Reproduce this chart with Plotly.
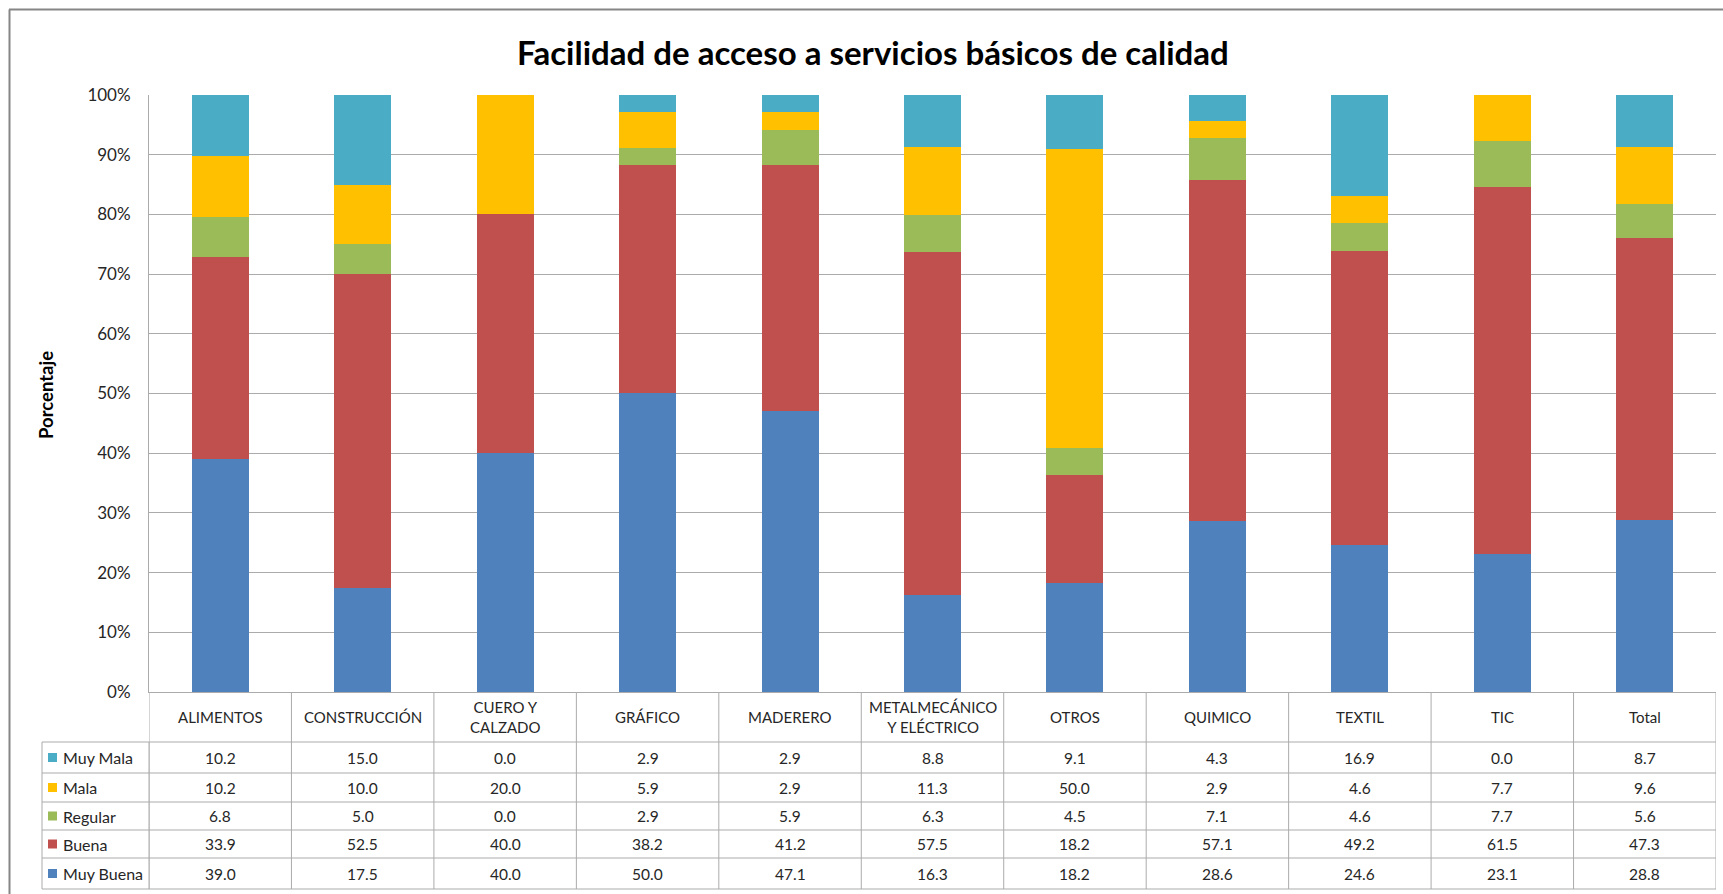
import plotly.graph_objects as go

W, H = 1723, 894

categories = ["ALIMENTOS", "CONSTRUCCIÓN", "CUERO Y<br>CALZADO", "GRÁFICO", "MADERERO",
              "METALMECÁNICO<br>Y ELÉCTRICO", "OTROS", "QUIMICO", "TEXTIL", "TIC", "Total"]
cat_ids = ["ALIMENTOS", "CONSTRUCCIÓN", "CUERO Y CALZADO", "GRÁFICO", "MADERERO",
           "METALMECÁNICO Y ELÉCTRICO", "OTROS", "QUIMICO", "TEXTIL", "TIC", "Total"]

muy_mala = [10.2, 15.0, 0.0, 2.9, 2.9, 8.8, 9.1, 4.3, 16.9, 0.0, 8.7]
mala = [10.2, 10.0, 20.0, 5.9, 2.9, 11.3, 50.0, 2.9, 4.6, 7.7, 9.6]
regular = [6.8, 5.0, 0.0, 2.9, 5.9, 6.3, 4.5, 7.1, 4.6, 7.7, 5.6]
buena = [33.9, 52.5, 40.0, 38.2, 41.2, 57.5, 18.2, 57.1, 49.2, 61.5, 47.3]
muy_buena = [39.0, 17.5, 40.0, 50.0, 47.1, 16.3, 18.2, 28.6, 24.6, 23.1, 28.8]

# stacking order bottom -> top
series = [("Muy Buena", muy_buena, "#4F81BD"),
          ("Buena", buena, "#C0504D"),
          ("Regular", regular, "#9BBB59"),
          ("Mala", mala, "#FFC000"),
          ("Muy Mala", muy_mala, "#4BACC6")]
# table row order top -> bottom
table_rows = ["Muy Mala", "Mala", "Regular", "Buena", "Muy Buena"]

FONT = "Lato, 'Open Sans', sans-serif"
TXT = "#262626"
GRID = "#ABABAB"

def px(p):
    return p / W

def py(p):
    return 1 - p / H

PL, PR, PT, PB = 149, 1716, 95, 692

fig = go.Figure()
for name, vals, col in series:
    fig.add_trace(go.Bar(x=cat_ids, y=vals, name=name, marker=dict(color=col, line=dict(width=0)),
                         showlegend=False))

fig.update_layout(
    width=W, height=H,
    margin=dict(l=0, r=0, t=0, b=0, autoexpand=False),
    paper_bgcolor="white", plot_bgcolor="white",
    barmode="stack", barnorm="percent", bargap=0.6,
    font=dict(family=FONT, color=TXT),
    xaxis=dict(domain=[px(PL), px(PR)], showticklabels=False, showgrid=False,
               showline=True, linecolor=GRID, linewidth=1, ticks="", automargin=False,
               range=[-0.5, len(cat_ids) - 0.5], fixedrange=True),
    yaxis=dict(domain=[py(PB), py(PT)], range=[0, 100], dtick=10, ticksuffix="%",
               showgrid=True, gridcolor=GRID, gridwidth=1, showline=True, automargin=False,
               linecolor=GRID, linewidth=1, zeroline=False,
               tickfont=dict(size=17, family=FONT, color=TXT), ticklabelstandoff=14),
)

shapes = []
annotations = []

# outer chart border
shapes.append(dict(type="line", xref="paper", yref="paper", x0=px(9), x1=1, y0=py(9.5), y1=py(9.5),
                   line=dict(color="#868686", width=2)))
shapes.append(dict(type="line", xref="paper", yref="paper", x0=px(9.5), x1=px(9.5), y0=py(9.5), y1=0,
                   line=dict(color="#868686", width=2)))

# title
annotations.append(dict(text="<b>Facilidad de acceso a servicios básicos de calidad</b>",
                        xref="paper", yref="paper", x=px(873), y=py(52), xanchor="center", yanchor="middle",
                        showarrow=False, font=dict(size=33, family=FONT, color="#000000")))
# y axis title
annotations.append(dict(text="<b>Porcentaje</b>", xref="paper", yref="paper", x=px(46), y=py(395),
                        textangle=-90, xanchor="center", yanchor="middle", showarrow=False,
                        font=dict(size=18.5, family=FONT, color="#000000")))

# data table
row_lines = [742, 773, 802, 830, 858, 889]
n = len(cat_ids)
for i in range(n + 1):
    shapes.append(dict(type="line", xref="x", yref="paper", x0=i - 0.5, x1=i - 0.5,
                       y0=py(PB), y1=py(row_lines[-1]), line=dict(color=GRID, width=1)))
for yl in row_lines:
    shapes.append(dict(type="line", xref="paper", yref="paper", x0=px(42), x1=px(PR),
                       y0=py(yl), y1=py(yl), line=dict(color=GRID, width=1)))
for xl in (42, PL):
    shapes.append(dict(type="line", xref="paper", yref="paper", x0=px(xl), x1=px(xl),
                       y0=py(row_lines[0]), y1=py(row_lines[-1]), line=dict(color=GRID, width=1)))

# header labels
for i, lab in enumerate(categories):
    annotations.append(dict(text=lab, xref="x", yref="paper", x=cat_ids[i], y=py((PB + row_lines[0]) / 2),
                            xanchor="center", yanchor="middle", showarrow=False,
                            font=dict(size=15, family=FONT, color=TXT)))

lookup = {name: (vals, col) for name, vals, col in series}
for r, name in enumerate(table_rows):
    vals, col = lookup[name]
    yc = (row_lines[r] + row_lines[r + 1]) / 2
    shapes.append(dict(type="rect", xref="paper", yref="paper", x0=px(48), x1=px(57),
                       y0=py(yc - 4.5), y1=py(yc + 4.5), fillcolor=col, line=dict(width=0)))
    annotations.append(dict(text=name, xref="paper", yref="paper", x=px(61), y=py(yc),
                            xanchor="left", yanchor="middle", showarrow=False,
                            font=dict(size=16, family=FONT, color=TXT)))
    for i, v in enumerate(vals):
        annotations.append(dict(text=f"{v:.1f}", xref="x", yref="paper", x=cat_ids[i], y=py(yc),
                                xanchor="center", yanchor="middle", showarrow=False,
                                font=dict(size=15.5, family=FONT, color=TXT)))

fig.update_layout(shapes=shapes, annotations=annotations)

post = ("document.documentElement.style.margin='0';document.documentElement.style.padding='0';"
        "document.body.style.margin='0';document.body.style.padding='0';document.body.style.overflow='hidden';"
        "var gd=document.getElementById('{plot_id}');gd.style.position='absolute';gd.style.left='0px';gd.style.top='0px';")
fig.write_html("out.html", post_script=post, config={"displayModeBar": False})
